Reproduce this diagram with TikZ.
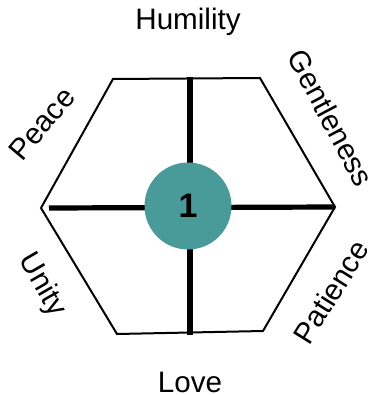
\documentclass[tikz,border=0pt]{standalone}
\usepackage{fontspec}
\setmainfont{Liberation Sans}
\usepackage{xcolor}
\usepackage{tikz}

\definecolor{hubteal}{HTML}{489B98}

\begin{document}
\begin{tikzpicture}[
	x=0.5pt, y=-0.5pt,
	edge/.style={
		draw,
		line width=1pt,
		line join=miter
	},
	spoke/.style={
		line width=2.6pt
	},
	hub/.style={
		circle,
		fill=hubteal,
		minimum size=43.5pt,
		inner sep=0pt,
		font=\fontsize{17}{17}\selectfont\bfseries
	},
	virtue/.style={
		font=\fontsize{14.8}{14.8}\selectfont,
		inner sep=0pt
	}
	]
	
	\useasboundingbox (0,0) rectangle (374,395);
	
	% hexagon corners
	\coordinate (c_topleft) at (113,79);
	\coordinate (c_topright) at (260,78);
	\coordinate (c_right) at (335,207);
	\coordinate (c_botright) at (263,331);
	\coordinate (c_botleft) at (117,334);
	\coordinate (c_left) at (41,208);
	
	% ends of the cross
	\coordinate (c_top) at (190,77);
	\coordinate (c_bottom) at (190,335);
	\coordinate (c_west) at (49,208);
	\coordinate (c_east) at (335,207);
	
	% outline
	\path[edge] (c_topleft) -- (c_topright) -- (c_right) -- (c_botright)
		-- (c_botleft) -- (c_left) -- cycle;
	
	% cross
	\draw[spoke] (c_top) -- (c_bottom);
	\draw[spoke] (c_west) -- (c_east);
	
	% centre
	\node[hub] (hub_one) at (188,206) {1};
	
	% labels
	\node[virtue] (humility) at (188,22) {Humility};
	\node[virtue] (love) at (190,382) {Love};
	\node[virtue, rotate=50] (peace) at (42,124) {Peace};
	\node[virtue, rotate=-62] (gentleness) at (331,118) {Gentleness};
	\node[virtue, rotate=-60] (unity) at (42,285) {Unity};
	\node[virtue, rotate=58] (patience) at (331,292) {Patience};
	
\end{tikzpicture}
\end{document}
